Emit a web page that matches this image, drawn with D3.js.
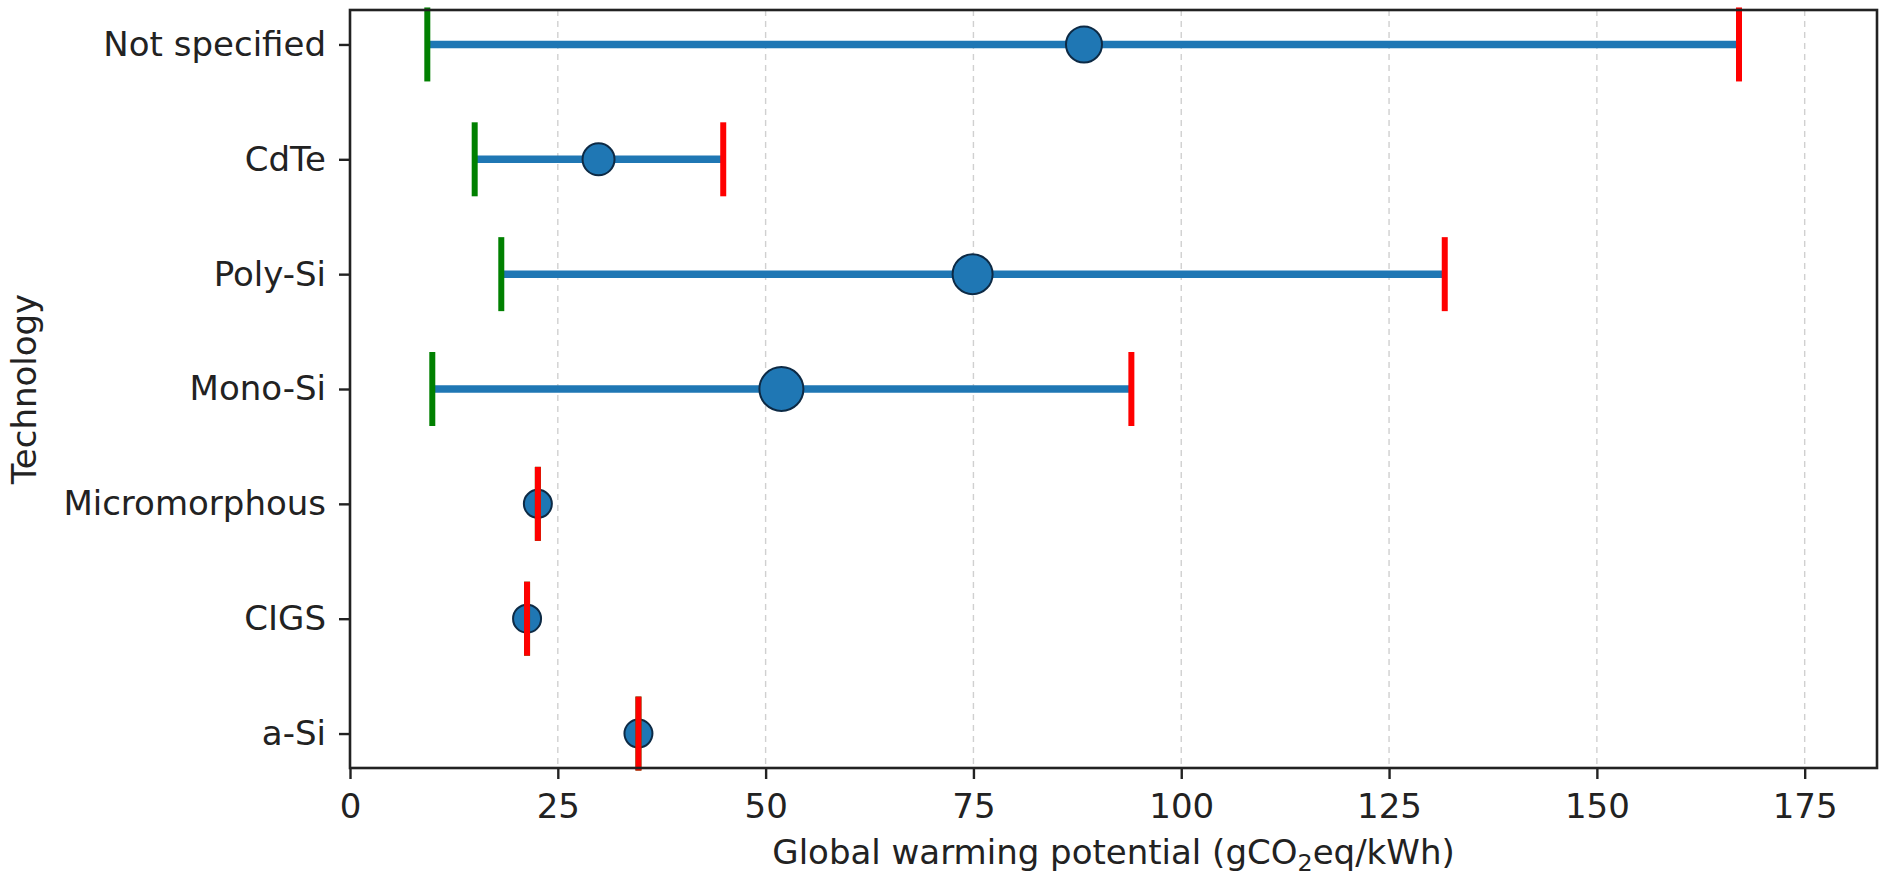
<!DOCTYPE html>
<html>
<head>
<meta charset="utf-8">
<script src="https://cdn.jsdelivr.net/npm/d3@7"></script>
<style>
  html, body { margin: 0; padding: 0; background: #fff; }
  svg { display: block; }
  text { font-family: "DejaVu Sans", sans-serif; fill: #222; }
</style>
</head>
<body>
<svg id="chart" width="1884" height="879"></svg>
<script>
// Life-cycle GWP ranges per PV technology (gCO2eq/kWh)
const technologies = ["a-Si", "CIGS", "Micromorphous", "Mono-Si", "Poly-Si", "CdTe", "Not specified"];
const gwpMin  = [34.7, 21.3, 22.6,  9.9,  18.2, 15.0,   9.3];
const gwpMax  = [34.7, 21.3, 22.6, 94.0, 131.7, 44.9, 167.1];
const gwpMean = [34.7, 21.3, 22.6, 51.9,  74.9, 29.9,  88.3];
const studyCount = [1, 1, 1, 9, 7, 3, 5];
const xTicks = [0, 25, 50, 75, 100, 125, 150, 175];

const rows = technologies.map((t, i) => ({
  tech: t, lo: gwpMin[i], hi: gwpMax[i], mean: gwpMean[i], n: studyCount[i]
}));

const svg = d3.select("#chart");
const M = { left: 350, right: 1877, top: 10, bottom: 768 };
const FONT = 34;

const x = d3.scaleLinear().domain([0, 183.7]).range([M.left, M.right]);
const y = d3.scalePoint().domain(technologies).range([M.bottom, M.top]).padding(0.3);
const r = d3.scaleLinear().domain([1, 9]).range([14, 22]);

// dashed vertical grid
svg.append("g")
  .selectAll("line")
  .data(xTicks)
  .join("line")
  .attr("x1", d => x(d)).attr("x2", d => x(d))
  .attr("y1", M.top).attr("y2", M.bottom)
  .attr("stroke", "#b0b0b0")
  .attr("stroke-opacity", 0.6)
  .attr("stroke-width", 1.4)
  .attr("stroke-dasharray", "6,5");

// range lines
const CAP = 37;
svg.append("g")
  .selectAll("line")
  .data(rows.filter(d => d.hi > d.lo))
  .join("line")
  .attr("x1", d => x(d.lo)).attr("x2", d => x(d.hi))
  .attr("y1", d => y(d.tech)).attr("y2", d => y(d.tech))
  .attr("stroke", "#1f77b4")
  .attr("stroke-width", 7.5);

// mean markers
svg.append("g")
  .selectAll("circle")
  .data(rows)
  .join("circle")
  .attr("cx", d => x(d.mean))
  .attr("cy", d => y(d.tech))
  .attr("r", d => r(d.n))
  .attr("fill", "#1f77b4")
  .attr("stroke", "#0d2a45")
  .attr("stroke-width", 2);

// minimum caps
svg.append("g")
  .selectAll("line")
  .data(rows)
  .join("line")
  .attr("x1", d => x(d.lo)).attr("x2", d => x(d.lo))
  .attr("y1", d => y(d.tech) - CAP).attr("y2", d => y(d.tech) + CAP)
  .attr("stroke", "#008000")
  .attr("stroke-width", 6);

// maximum caps
svg.append("g")
  .selectAll("line")
  .data(rows)
  .join("line")
  .attr("x1", d => x(d.hi)).attr("x2", d => x(d.hi))
  .attr("y1", d => y(d.tech) - CAP).attr("y2", d => y(d.tech) + CAP)
  .attr("stroke", "#ff0000")
  .attr("stroke-width", 6);

// axes
const xAxis = svg.append("g")
  .attr("transform", `translate(0,${M.bottom})`)
  .call(d3.axisBottom(x).tickValues(xTicks).tickFormat(d3.format("d")).tickSize(11).tickPadding(15));
const yAxis = svg.append("g")
  .attr("transform", `translate(${M.left},0)`)
  .call(d3.axisLeft(y).tickSize(11).tickPadding(13));

[xAxis, yAxis].forEach(g => {
  g.select(".domain").remove();
  g.selectAll(".tick line").attr("stroke", "#222").attr("stroke-width", 2.4);
  g.selectAll(".tick text")
    .attr("font-family", "DejaVu Sans, sans-serif")
    .attr("font-size", FONT)
    .attr("fill", "#222");
});

// frame
svg.append("rect")
  .attr("x", M.left).attr("y", M.top)
  .attr("width", M.right - M.left).attr("height", M.bottom - M.top)
  .attr("fill", "none")
  .attr("stroke", "#222")
  .attr("stroke-width", 2.6);

// axis titles
const xt = svg.append("text")
  .attr("x", (M.left + M.right) / 2)
  .attr("y", 864)
  .attr("text-anchor", "middle")
  .attr("font-size", FONT);
xt.append("tspan").text("Global warming potential (gCO");
xt.append("tspan").attr("font-size", FONT * 0.7).attr("dy", 7).text("2");
xt.append("tspan").attr("dy", -7).text("eq/kWh)");

svg.append("text")
  .attr("transform", `translate(36,${(M.top + M.bottom) / 2}) rotate(-90)`)
  .attr("text-anchor", "middle")
  .attr("font-size", FONT)
  .text("Technology");
</script>
</body>
</html>
